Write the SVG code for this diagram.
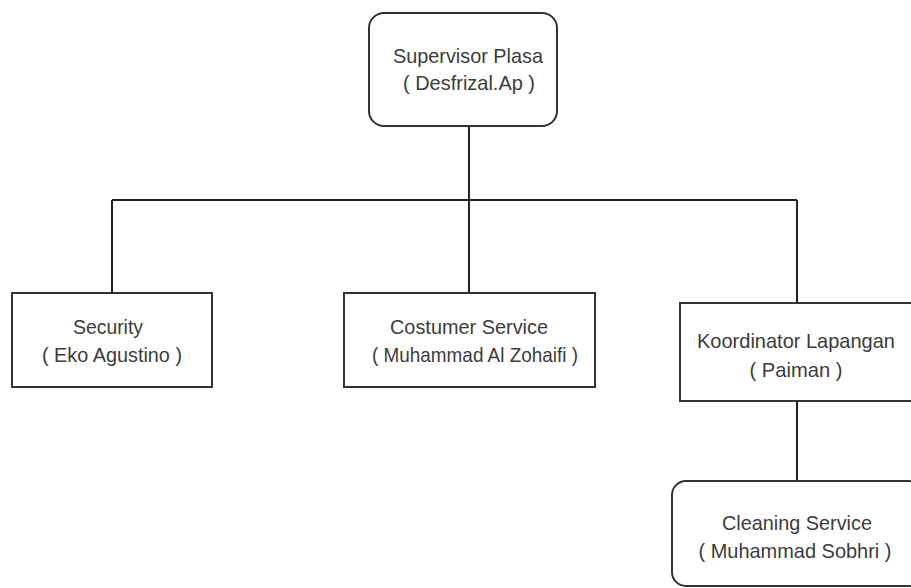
<svg xmlns="http://www.w3.org/2000/svg" width="911" height="588" viewBox="0 0 911 588">
<style>
.box{fill:#fff;stroke:#333;stroke-width:2}
.edge{fill:none;stroke:#222;stroke-width:2}
.t{font-family:"Liberation Sans",Arial,sans-serif;font-size:21px;fill:#3c3c3c;text-anchor:middle}
</style>
<rect width="911" height="588" fill="#fff"/>
<g id="connectors">
<path class="edge" d="M469 126 V293"/>
<path class="edge" d="M112 200 H797"/>
<path class="edge" d="M112 200 V293"/>
<path class="edge" d="M797 200 V303"/>
<path class="edge" d="M797 401 V481"/>
</g>
<g id="supervisor">
<rect class="box" x="369" y="13" width="188" height="113" rx="15"/>
<text class="t" x="468" y="63" textLength="150" lengthAdjust="spacingAndGlyphs">Supervisor Plasa</text>
<text class="t" x="469" y="90" textLength="132" lengthAdjust="spacingAndGlyphs">( Desfrizal.Ap )</text>
</g>
<g id="security">
<rect class="box" x="12" y="293" width="200" height="94"/>
<text class="t" x="108" y="334" textLength="70" lengthAdjust="spacingAndGlyphs">Security</text>
<text class="t" x="112" y="362" textLength="140" lengthAdjust="spacingAndGlyphs">( Eko Agustino )</text>
</g>
<g id="costumer">
<rect class="box" x="344" y="293" width="251" height="94"/>
<text class="t" x="469" y="334" textLength="158" lengthAdjust="spacingAndGlyphs">Costumer Service</text>
<text class="t" x="475" y="362" textLength="206" lengthAdjust="spacingAndGlyphs">( Muhammad Al Zohaifi )</text>
</g>
<g id="koordinator">
<rect class="box" x="680" y="303" width="234" height="98"/>
<text class="t" x="796" y="348" textLength="198" lengthAdjust="spacingAndGlyphs">Koordinator Lapangan</text>
<text class="t" x="796" y="377" textLength="93" lengthAdjust="spacingAndGlyphs">( Paiman )</text>
</g>
<g id="cleaning">
<rect class="box" x="672" y="481" width="250" height="105" rx="14"/>
<text class="t" x="797" y="530" textLength="150" lengthAdjust="spacingAndGlyphs">Cleaning Service</text>
<text class="t" x="795" y="558" textLength="193" lengthAdjust="spacingAndGlyphs">( Muhammad Sobhri )</text>
</g>
</svg>
